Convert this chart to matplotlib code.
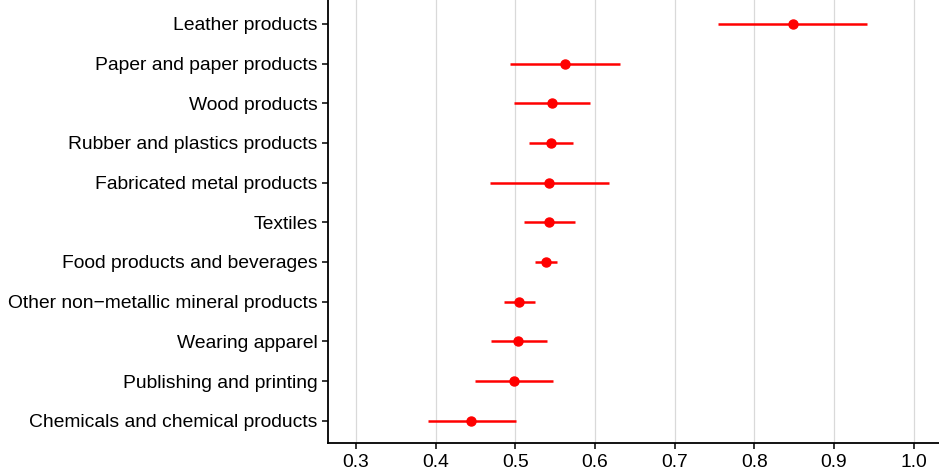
""" Dot-and-interval chart by industry """
import matplotlib.pyplot as plt

plt.rcParams['font.family'] = ['Liberation Sans', 'DejaVu Sans']

# rows from bottom to top
industries = ['Chemicals and chemical products', 'Publishing and printing', 'Wearing apparel',
              'Other non\u2212metallic mineral products', 'Food products and beverages', 'Textiles',
              'Fabricated metal products', 'Rubber and plastics products', 'Wood products',
              'Paper and paper products', 'Leather products']
estimate = [0.445, 0.498, 0.504, 0.505, 0.539, 0.543, 0.543, 0.545, 0.546, 0.563, 0.849]
lower = [0.390, 0.450, 0.470, 0.486, 0.525, 0.511, 0.468, 0.517, 0.499, 0.494, 0.755]
upper = [0.501, 0.547, 0.540, 0.525, 0.553, 0.575, 0.618, 0.573, 0.594, 0.632, 0.942]
xticks = [0.3, 0.4, 0.5, 0.6, 0.7, 0.8, 0.9, 1.0]

fig = plt.figure(figsize=(9.39, 4.76), dpi=100)
ax = fig.add_axes([328 / 939, 33 / 476, 1 - 328 / 939, 443 / 476])

pos = list(range(len(industries)))
ax.hlines(pos, lower, upper, color='#ff0000', linewidth=1.8, zorder=3)
ax.plot(estimate, pos, 'o', color='#ff0000', markersize=6.5, zorder=4)

ax.set_xlim(0.265, 1.032)
ax.set_ylim(-0.56, len(industries) - 0.4)
ax.set_xticks(xticks)
ax.set_xticklabels(['{:.1f}'.format(t) for t in xticks])
ax.set_yticks(pos)
ax.set_yticklabels(industries)
ax.grid(axis='x', color='#d9d9d9', linewidth=0.9)
ax.set_axisbelow(True)

for side in ['top', 'right']:
    ax.spines[side].set_visible(False)
for side in ['left', 'bottom']:
    ax.spines[side].set_linewidth(1.3)
ax.tick_params(length=4, width=1.1, labelsize=13.9, colors='black', pad=3.5)
ax.tick_params(axis='x', pad=4)

fig.savefig('out.png', dpi=100)
